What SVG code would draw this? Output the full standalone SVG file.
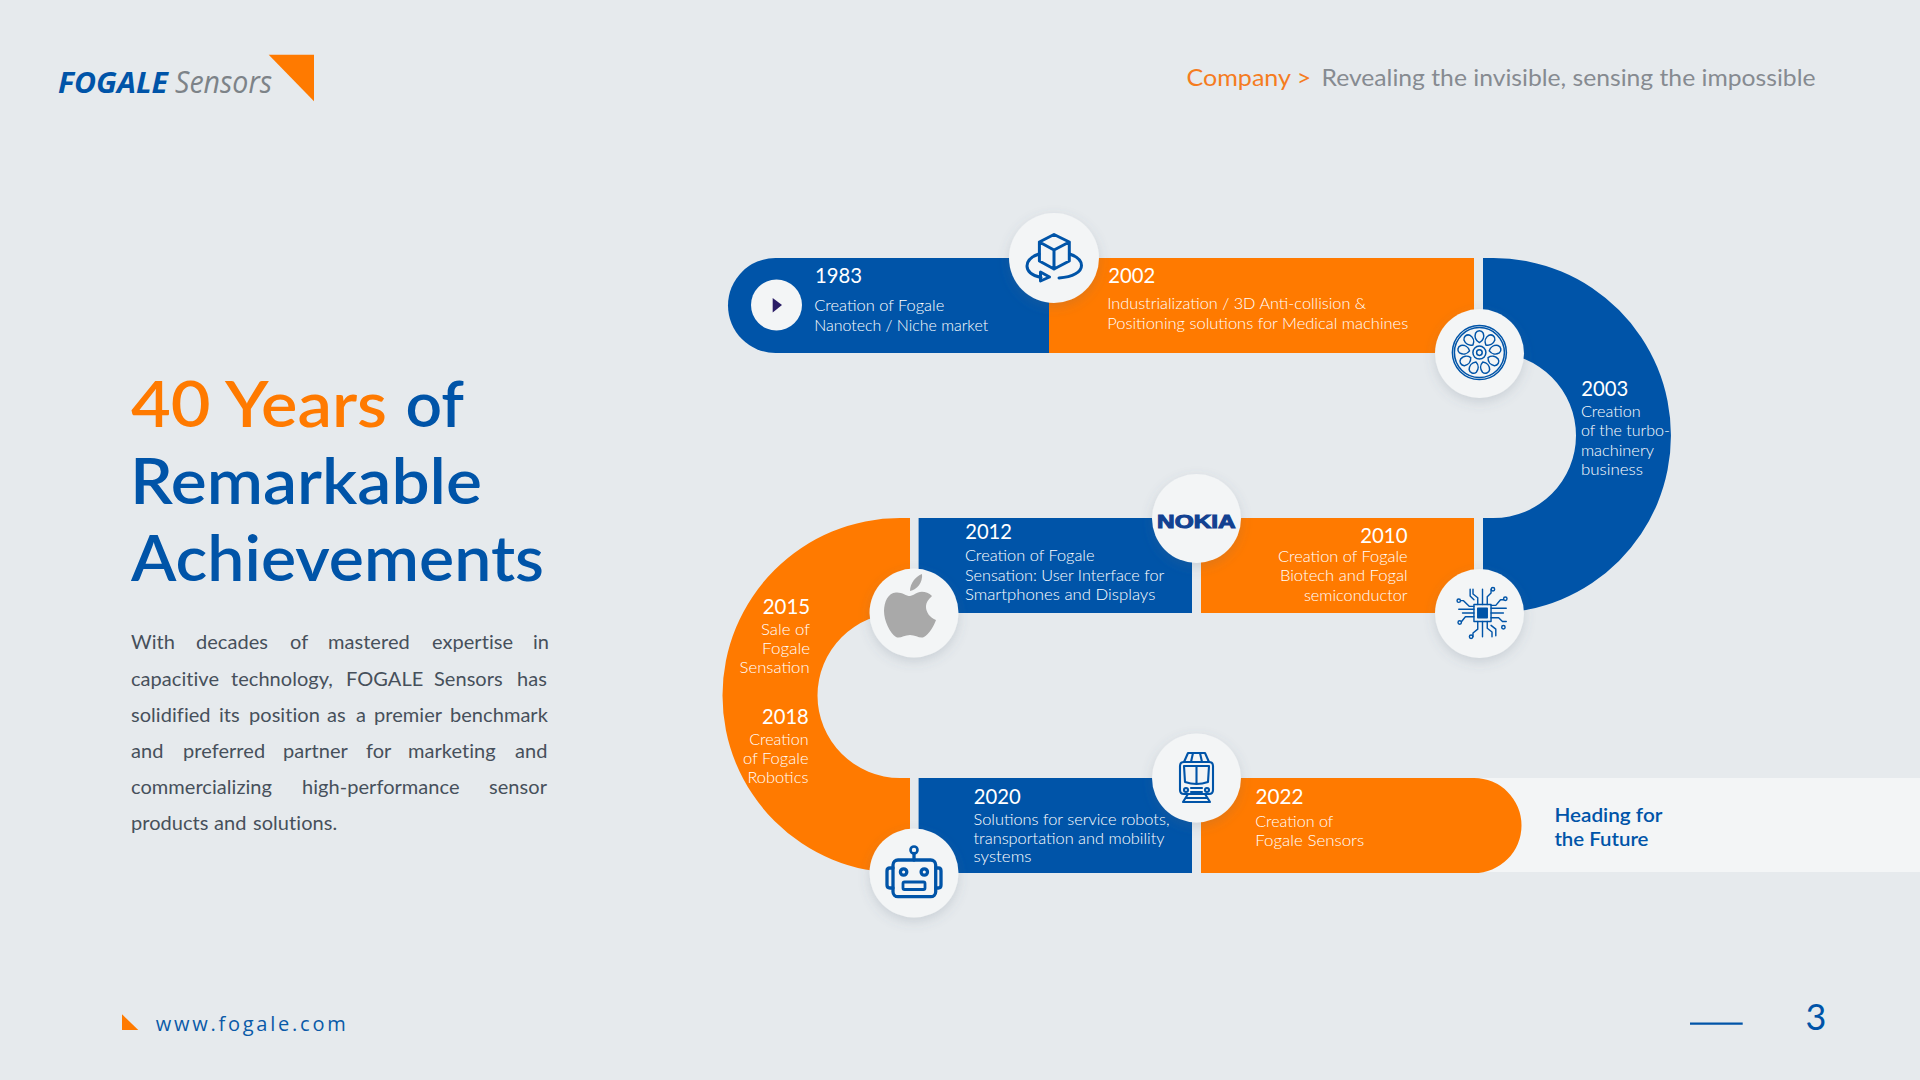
<svg xmlns="http://www.w3.org/2000/svg" xmlns:xlink="http://www.w3.org/1999/xlink" width="1920" height="1080" viewBox="0 0 1920 1080">
<defs>
<style>
text{font-family:"Lato","Noto Sans",sans-serif}
.b{fill:#0054a8}.o{fill:#ff7a00}
.yr{font-size:22px;fill:#fff;transform:translate(-.5px,.4px)}
.ds{font-size:16px;font-weight:300;fill:#fff;transform:translate(-.8px,-.4px)}
.t{font-size:63px;font-weight:600;fill:#0054a8}
.body{font-size:20px;letter-spacing:.05px;fill:#46505b}
.hd{font-size:24px}
.disc{fill:#f3f5f6;filter:url(#sh)}
.ic{fill:none;stroke:#0054a8;stroke-width:3;stroke-linecap:round;stroke-linejoin:round}
.thin{fill:none;stroke:#0054a8;stroke-width:1.5;stroke-linecap:round;stroke-linejoin:round}
</style>
<filter id="sh" x="-30%" y="-30%" width="160%" height="170%"><feDropShadow dx="0" dy="4" stdDeviation="6" flood-color="#5a6a78" flood-opacity=".2"/></filter>
<path id="petal" d="M0 -10C-4 -12-5-16-3.8-19.5C-2.2-22.5 2.2-22.5 3.8-19.5C5-16 4-12 0-10Z"/>
</defs>
<rect id="background" width="1920" height="1080" fill="#e6eaed"/>

<g id="logo">
<text x="58" y="93" font-size="29" font-weight="700" font-style="italic" fill="#0054a8" textLength="110" lengthAdjust="spacingAndGlyphs" style="font-family:'Open Sans',sans-serif">FOGALE</text>
<text x="175" y="93" font-size="31" font-style="italic" fill="#7d8388" textLength="97" lengthAdjust="spacingAndGlyphs" style="font-family:'Open Sans',sans-serif">Sensors</text>
<polygon points="268.7,54.7 314,54.7 314,101.3" fill="#ff7a00"/>
</g>

<g id="header">
<text class="hd" x="1186.4" y="85.7" fill="#f57c1f" textLength="125" lengthAdjust="spacingAndGlyphs">Company &gt;</text>
<text class="hd" x="1321.5" y="85.7" fill="#868b91" textLength="494" lengthAdjust="spacingAndGlyphs">Revealing the invisible, sensing the impossible</text>
</g>

<g id="title">
<text class="t" x="131" y="426.5" style="fill:#ff7a00" textLength="256" lengthAdjust="spacingAndGlyphs">40 Years</text>
<text class="t" x="405.5" y="426.5" textLength="58.5" lengthAdjust="spacingAndGlyphs">of</text>
<text class="t" x="130" y="503.5" textLength="352" lengthAdjust="spacingAndGlyphs">Remarkable</text>
<text class="t" x="131" y="580.5" textLength="413" lengthAdjust="spacingAndGlyphs">Achievements</text>
</g>

<g id="intro">
<text class="body" y="649.3"><tspan x="131">With</tspan> <tspan x="196">decades</tspan> <tspan x="290">of</tspan> <tspan x="328">mastered</tspan> <tspan x="432">expertise</tspan> <tspan x="533">in</tspan></text>
<text class="body" y="685.5"><tspan x="131">capacitive</tspan> <tspan x="231">technology,</tspan> <tspan x="346">FOGALE</tspan> <tspan x="434">Sensors</tspan> <tspan x="517">has</tspan></text>
<text class="body" y="721.7"><tspan x="131">solidified</tspan> <tspan x="219">its</tspan> <tspan x="249">position</tspan> <tspan x="327">as</tspan> <tspan x="356">a</tspan> <tspan x="374">premier</tspan> <tspan x="450">benchmark</tspan></text>
<text class="body" y="757.7"><tspan x="131">and</tspan> <tspan x="183">preferred</tspan> <tspan x="283">partner</tspan> <tspan x="366">for</tspan> <tspan x="408">marketing</tspan> <tspan x="515">and</tspan></text>
<text class="body" y="794"><tspan x="131">commercializing</tspan> <tspan x="302">high-performance</tspan> <tspan x="489">sensor</tspan></text>
<text class="body" y="830"><tspan x="131">products</tspan> <tspan x="214">and</tspan> <tspan x="253">solutions.</tspan></text>
</g>

<g id="connectors">
<rect x="1480" y="778" width="440" height="94" fill="#f3f5f6"/>
<path class="b" d="M1049 258H775.5A47.5 47.5 0 0 0 775.5 353H1049Z"/>
<rect class="o" x="1049" y="258" width="425" height="95"/>
<path class="b" d="M1483 258H1493.5A177.5 177.5 0 0 1 1493.5 613H1483V518H1493.5A82.5 82.5 0 0 0 1493.5 353H1483Z"/>
<rect class="o" x="1201" y="518" width="273" height="95"/>
<rect class="b" x="918.6" y="518" width="273.4" height="95"/>
<path class="o" d="M910 518H900A177.5 177.5 0 0 0 900 873H910V778H900A82.5 82.5 0 0 1 900 613H910Z"/>
<rect class="b" x="918.6" y="778" width="273.4" height="95"/>
<path class="o" d="M1201 778H1474A47.5 47.5 0 0 1 1474 873H1201Z"/>
</g>

<g id="y1983">
<text class="yr" x="815.6" y="283" textLength="47" lengthAdjust="spacingAndGlyphs">1983</text>
<text class="ds" x="815" y="311" textLength="130" lengthAdjust="spacingAndGlyphs">Creation of Fogale</text>
<text class="ds" x="815" y="331" textLength="174" lengthAdjust="spacingAndGlyphs">Nanotech / Niche market</text>
<circle cx="776.5" cy="305" r="25.5" fill="#f3f5f6"/>
<polygon points="772.7,298 782,305 772.7,312.5" fill="#2a1c66"/>
</g>
<g id="y2002">
<text class="yr" x="1108.7" y="283" textLength="47" lengthAdjust="spacingAndGlyphs">2002</text>
<text class="ds" x="1108" y="309" textLength="259" lengthAdjust="spacingAndGlyphs">Industrialization / 3D Anti-collision &amp;</text>
<text class="ds" x="1108" y="329" textLength="301" lengthAdjust="spacingAndGlyphs">Positioning solutions for Medical machines</text>
</g>
<g id="y2003">
<text class="yr" x="1581.7" y="395.7" textLength="47" lengthAdjust="spacingAndGlyphs">2003</text>
<text class="ds" x="1581.7" y="417.7" textLength="59.7" lengthAdjust="spacingAndGlyphs">Creation</text>
<text class="ds" x="1581.7" y="436.7" textLength="89" lengthAdjust="spacingAndGlyphs">of the turbo-</text>
<text class="ds" x="1581.7" y="456.3" textLength="73" lengthAdjust="spacingAndGlyphs">machinery</text>
<text class="ds" x="1581.7" y="475.7" textLength="62" lengthAdjust="spacingAndGlyphs">business</text>
</g>
<g id="y2010">
<text class="yr" x="1360.7" y="542.3" textLength="47.3" lengthAdjust="spacingAndGlyphs">2010</text>
<text class="ds" x="1278.7" y="562.3" textLength="129.7" lengthAdjust="spacingAndGlyphs">Creation of Fogale</text>
<text class="ds" x="1280.7" y="581.3" textLength="127.7" lengthAdjust="spacingAndGlyphs">Biotech and Fogal</text>
<text class="ds" x="1304.7" y="601" textLength="103.7" lengthAdjust="spacingAndGlyphs">semiconductor</text>
</g>
<g id="y2012">
<text class="yr" x="965.7" y="538.3" textLength="46.8" lengthAdjust="spacingAndGlyphs">2012</text>
<text class="ds" x="965.7" y="561.3" textLength="129.6" lengthAdjust="spacingAndGlyphs">Creation of Fogale</text>
<text class="ds" x="965.7" y="581.3" textLength="199.3" lengthAdjust="spacingAndGlyphs">Sensation: User Interface for</text>
<text class="ds" x="965.7" y="600.3" textLength="190.4" lengthAdjust="spacingAndGlyphs">Smartphones and Displays</text>
</g>
<g id="y2015">
<text class="yr" x="763.2" y="614" textLength="47.5" lengthAdjust="spacingAndGlyphs">2015</text>
<text class="ds" x="761.8" y="635.3" textLength="49" lengthAdjust="spacingAndGlyphs">Sale of</text>
<text class="ds" x="762.9" y="654.3" textLength="48" lengthAdjust="spacingAndGlyphs">Fogale</text>
<text class="ds" x="740.4" y="673.3" textLength="70" lengthAdjust="spacingAndGlyphs">Sensation</text>
</g>
<g id="y2018">
<text class="yr" x="762.5" y="724" textLength="46.8" lengthAdjust="spacingAndGlyphs">2018</text>
<text class="ds" x="750" y="745.3" textLength="59.3" lengthAdjust="spacingAndGlyphs">Creation</text>
<text class="ds" x="743.9" y="764.3" textLength="65.4" lengthAdjust="spacingAndGlyphs">of Fogale</text>
<text class="ds" x="748.2" y="783.3" textLength="61" lengthAdjust="spacingAndGlyphs">Robotics</text>
</g>
<g id="y2020">
<text class="yr" x="974.3" y="803.3" textLength="47" lengthAdjust="spacingAndGlyphs">2020</text>
<text class="ds" x="974.3" y="825" textLength="196" lengthAdjust="spacingAndGlyphs">Solutions for service robots,</text>
<text class="ds" x="974.3" y="844" textLength="191" lengthAdjust="spacingAndGlyphs">transportation and mobility</text>
<text class="ds" x="974.3" y="862.7" textLength="58" lengthAdjust="spacingAndGlyphs">systems</text>
</g>
<g id="y2022">
<text class="yr" x="1256" y="803.3" textLength="48" lengthAdjust="spacingAndGlyphs">2022</text>
<text class="ds" x="1256" y="827.3" textLength="78" lengthAdjust="spacingAndGlyphs">Creation of</text>
<text class="ds" x="1256" y="846.3" textLength="109" lengthAdjust="spacingAndGlyphs">Fogale Sensors</text>
</g>
<g id="future">
<text x="1554.4" y="821.7" font-size="20" font-weight="600" fill="#0054a8" textLength="108" lengthAdjust="spacingAndGlyphs">Heading for</text>
<text x="1554.4" y="846" font-size="20" font-weight="600" fill="#0054a8" textLength="94" lengthAdjust="spacingAndGlyphs">the Future</text>
</g>

<g id="icon-cube">
<circle class="disc" cx="1054" cy="258" r="45"/>
<g class="ic">
<path d="M1054 234.5L1069.3 242V261L1054 269L1039.4 261V242ZM1039.4 242L1054 250L1069.3 242M1054 250V269"/>
<path d="M1069.5 254C1077 256.5 1081.5 261 1081.5 265.5C1081.5 272 1073 277 1059 278"/>
<path d="M1039 254C1031.5 256.5 1027 261 1027 266C1027 271.5 1032 275.5 1041 277.5"/>
<path d="M1040.5 272L1049.5 277L1040.5 281Z"/>
</g>
</g>

<g id="icon-fan">
<circle class="disc" cx="1479.5" cy="353.5" r="44.5"/>
<g class="thin" transform="translate(1479.4 352.6)">
<circle r="27"/><circle r="25"/><circle r="6.5"/><circle r="2.8"/>
<use href="#petal"/>
<use href="#petal" transform="rotate(40)"/>
<use href="#petal" transform="rotate(80)"/>
<use href="#petal" transform="rotate(120)"/>
<use href="#petal" transform="rotate(160)"/>
<use href="#petal" transform="rotate(200)"/>
<use href="#petal" transform="rotate(240)"/>
<use href="#petal" transform="rotate(280)"/>
<use href="#petal" transform="rotate(320)"/>
</g>
</g>

<g id="icon-chip">
<circle class="disc" cx="1479.5" cy="613.5" r="44.5"/>
<g class="thin" transform="translate(1482.5 613) scale(.95)">
<rect x="-9" y="-9" width="18" height="18"/>
<rect x="-5" y="-5" width="10" height="10" fill="#0054a8"/>
<path d="M-5 -9V-16L-10 -20V-25M0 -9V-25M5 -9V-17L9 -21V-25M-13 -25V-18L-9 -14"/>
<path d="M-5 9V17L-10 21V25M0 9V25M5 9V16L10 20V25M14 24V17L9 13"/>
<path d="M-9 -4H-25M-9 0H-21M-9 4H-18L-22 9M-9 -7H-14L-20 -13H-23"/>
<path d="M9 -5H25M9 0H22M9 5H17L21 9H25M9 -8H14L19 -14H22"/>
<circle cx="-25" cy="-13" r="1.8"/><circle cx="-24" cy="10" r="1.8"/><circle cx="24" cy="-15" r="1.8"/><circle cx="22" cy="15" r="1.8"/><circle cx="-12" cy="25" r="1.8"/><circle cx="11" cy="-25" r="1.8"/>
</g>
</g>

<g id="icon-nokia">
<circle class="disc" cx="1196.5" cy="518.5" r="44.5"/>
<text x="1157" y="528" font-size="18" font-weight="700" fill="#124191" stroke="#124191" stroke-width="1" textLength="78.7" lengthAdjust="spacingAndGlyphs" style="font-family:'Liberation Sans',sans-serif">NOKIA</text>
</g>

<g id="icon-apple">
<circle class="disc" cx="914" cy="613" r="44.5"/>
<path fill="#a9a9a9" d="M910 596C906 596 902 592 896 592.5C888 593 884 602 884 611C884 621 890 633 896 637C900 639 904 635 910 635C916 635 920 639 924 637C929 634 934 626 936 620C930 618 926 612 926 607C926 602 929 599 932 596C928 592 922 591 918 592.5C915 593.5 912 596 910 596Z"/>
<path fill="#a9a9a9" d="M910 591C910 583 916 576 922 574C923 582 917 590 910 591Z"/>
</g>

<g id="icon-train">
<circle class="disc" cx="1196.5" cy="778" r="44.5"/>
<g class="thin" style="stroke-width:2.1">
<path d="M1188 753H1205L1209 762H1184ZM1193 753L1191 762M1200 753L1202 762"/>
<path d="M1184 762H1209Q1213 762 1213 766V790Q1213 794 1209 794H1184Q1180 794 1180 790V766Q1180 762 1184 762Z"/>
<path d="M1184 766H1209L1208 782Q1196.5 786 1185 782ZM1196.5 766V784"/>
<circle cx="1186" cy="790" r="2"/><circle cx="1207" cy="790" r="2"/>
<path d="M1191 788H1202M1191 792H1202"/>
<path d="M1188 794L1183 802M1205 794L1210 802M1186 798H1207M1183 802H1210"/>
</g>
</g>

<g id="icon-robot">
<circle class="disc" cx="914" cy="873" r="44.5"/>
<g class="ic" style="stroke-width:3.3">
<rect x="893" y="860" width="42.7" height="36.7" rx="5"/>
<path d="M893 868H890Q887 868 887 871V885Q887 888 890 888H893M936 868H938.5Q941 868 941 871V885Q941 888 938.5 888H936"/>
<circle cx="914" cy="850" r="3.5" style="stroke-width:2.6"/><path d="M914 853.5V860"/>
<circle cx="903.6" cy="872" r="3.2"/><circle cx="924.3" cy="872" r="3.2"/>
<rect x="903" y="882" width="22" height="7.5" rx="1.5" style="stroke-width:2.8"/>
</g>
</g>

<g id="footer">
<polygon points="122,1014.3 122,1030 138.3,1030" fill="#ff7a00"/>
<text x="155.7" y="1030.7" font-size="20" fill="#0a5aa8" textLength="190" lengthAdjust="spacing" style="font-family:'Open Sans',sans-serif">www.fogale.com</text>
<line x1="1690" y1="1023.7" x2="1742.7" y2="1023.7" stroke="#0054a8" stroke-width="2.2"/>
<text x="1805.5" y="1030" font-size="36" fill="#0054a8">3</text>
</g>
</svg>
